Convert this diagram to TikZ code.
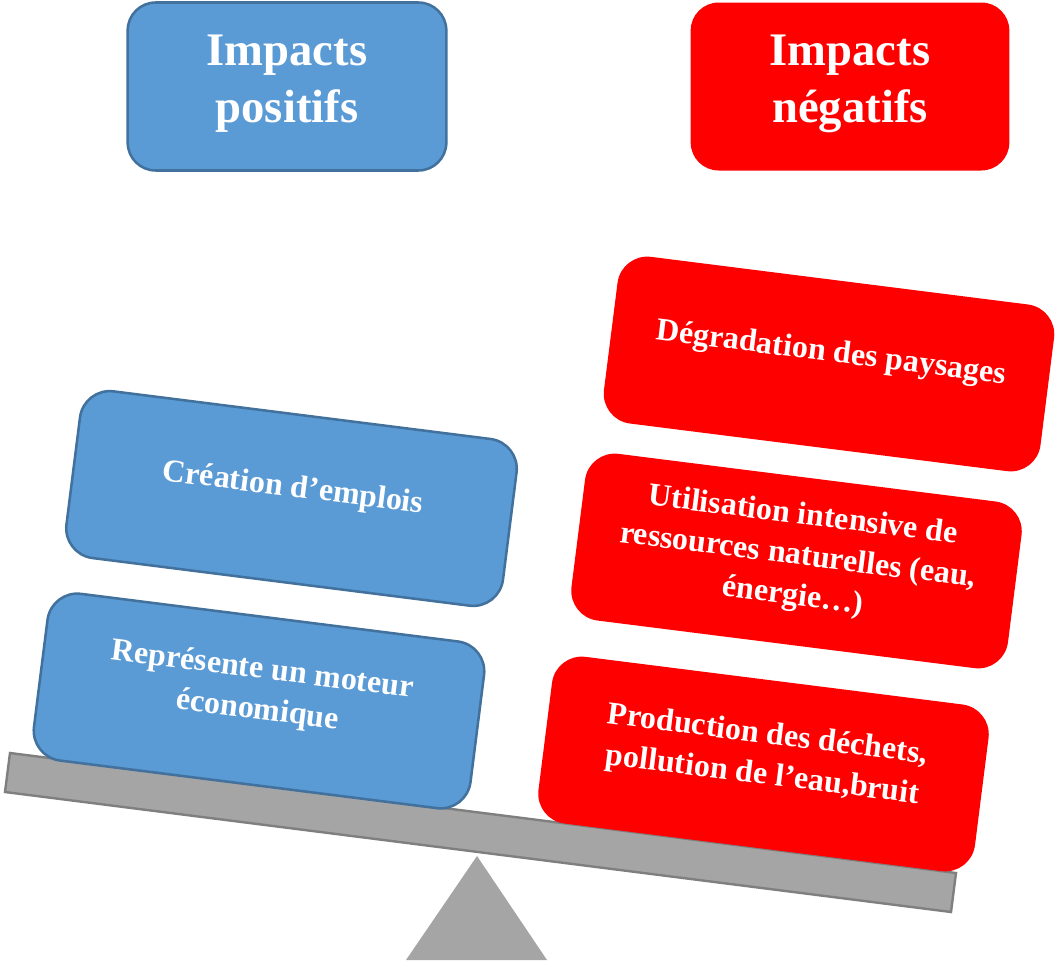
\documentclass[tikz,border=0pt]{standalone}
\usepackage{fontspec}
\setmainfont{Liberation Serif}
\definecolor{boxblue}{HTML}{5B9BD5}
\definecolor{blueline}{HTML}{41719C}
\definecolor{boxred}{HTML}{FF0000}
\definecolor{beamgray}{HTML}{A5A5A5}
\definecolor{beamline}{HTML}{7F7F7F}
\tikzset{
  titlebox/.style={rounded corners=21pt, minimum width=239pt, minimum height=126pt, inner sep=0pt},
  bluetitle/.style={titlebox, fill=boxblue, draw=blueline, line width=1.9pt},
  redtitle/.style={titlebox, fill=boxred},
  titletext/.style={text=white, align=center, font=\bfseries\fontsize{35}{43}\selectfont},
  tiltbox/.style={rounded corners=22.5pt, minimum width=330pt, minimum height=126pt, inner sep=0pt, rotate=-7.2},
  bluetilt/.style={tiltbox, fill=boxblue, draw=blueline, line width=1.9pt},
  redtilt/.style={tiltbox, fill=boxred},
  tilttext/.style={text=white, align=center, rotate=-7.2, inner sep=0pt, font=\bfseries\fontsize{24}{30.5}\selectfont},
}
\begin{document}
\begin{tikzpicture}[x=0.75pt,y=-0.75pt]
\useasboundingbox (0,0) rectangle (1056,960);
% fulcrum
\coordinate (apex) at (477,856);
\coordinate (baseL) at (406,960);
\coordinate (baseR) at (547,960);
\fill[beamgray] (apex) -- (baseR) -- (baseL) -- cycle;
% beam
\coordinate (bTL) at (10,753);
\coordinate (bTR) at (956,873);
\coordinate (bBR) at (951,912);
\coordinate (bBL) at (5,792);
\draw[fill=beamgray, draw=beamline, line width=1.8pt, line join=miter] (bTL) -- (bTR) -- (bBR) -- (bBL) -- cycle;
% titles
\node[bluetitle] (tpos) at (287,86.5) {};
\node[titletext] (tposT) at (287,84) {Impacts\\positifs};
\node[redtitle] (tneg) at (850,86.5) {};
\node[titletext] (tnegT) at (850,84) {Impacts\\négatifs};
% positive boxes
\node[bluetilt] (b1) at (291.5,498.5) {};
\node[tilttext] (b1T) at (293,489) {Création d’emplois};
\node[bluetilt] (b2) at (259,701) {};
\node[tilttext] (b2T) at (260,691) {Représente un moteur\\économique};
% negative boxes
\node[redtilt] (r1) at (829,364) {};
\node[tilttext] (r1T) at (831,354) {Dégradation des paysages};
\node[redtilt] (r2) at (796.5,561) {};
\node[tilttext] (r2T) at (798,557) {Utilisation intensive de\\ressources naturelles (eau,\\énergie…)};
\node[redtilt] (r3) at (763.5,764) {};
\node[tilttext] (r3T) at (765,756) {Production des déchets,\\pollution de l’eau,bruit};
\end{tikzpicture}
\end{document}
